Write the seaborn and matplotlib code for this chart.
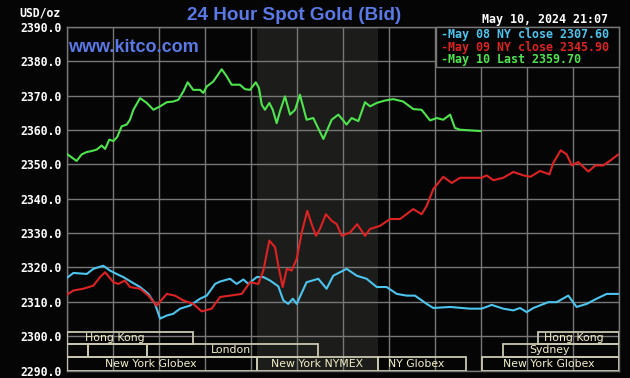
import matplotlib
matplotlib.use("Agg")
import matplotlib.pyplot as plt
from matplotlib.patches import Rectangle
import seaborn as sns
import pandas as pd

# ---------------- data ----------------
hours_may10 = [0.00, 0.43, 0.65, 0.87, 1.09, 1.30, 1.52, 1.67, 1.85, 2.03, 2.20, 2.39, 2.61, 2.75,
               2.90, 3.19, 3.48, 3.77, 4.06, 4.35, 4.63, 4.85, 5.07, 5.26, 5.50, 5.80, 5.94, 6.09,
               6.37, 6.74, 6.96, 7.17, 7.53, 7.75, 7.97, 8.22, 8.36, 8.48, 8.62, 8.81, 8.96, 9.13,
               9.27, 9.49, 9.71, 9.93, 10.14, 10.43, 10.72, 11.16, 11.52, 11.81, 12.17, 12.39,
               12.68, 12.97, 13.19, 13.48, 13.84, 14.20, 14.63, 15.07, 15.43, 15.80, 16.09, 16.37,
               16.67, 16.88, 17.10, 18.00]
price_may10 = [2353.1, 2351.0, 2352.9, 2353.6, 2353.9, 2354.3, 2355.5, 2354.5, 2357.2, 2356.8, 2358.0,
               2361.1, 2361.6, 2363.0, 2365.9, 2369.3, 2367.9, 2365.9, 2366.9, 2368.1, 2368.3, 2368.8,
               2371.2, 2373.9, 2371.7, 2371.7, 2370.8, 2372.7, 2374.1, 2377.7, 2375.6, 2373.2, 2373.2,
               2371.9, 2371.7, 2373.9, 2372.2, 2367.4, 2365.9, 2367.9, 2365.9, 2362.0, 2365.4, 2369.8,
               2364.5, 2365.9, 2370.3, 2363.0, 2363.5, 2357.4, 2363.0, 2364.5, 2361.6, 2363.5, 2362.6,
               2368.1, 2366.9, 2367.9, 2368.6, 2369.0, 2368.3, 2366.1, 2365.9, 2362.8, 2363.5, 2363.0,
               2364.5, 2360.6, 2360.1, 2359.7]

hours_may08 = [0.00, 0.29, 0.87, 1.16, 1.59, 1.88, 2.17, 2.46, 2.83, 3.19, 3.55, 3.84, 4.06, 4.35,
               4.63, 4.93, 5.36, 5.80, 6.09, 6.45, 6.67, 7.10, 7.39, 7.68, 7.90, 8.26, 8.55, 8.84,
               9.20, 9.42, 9.63, 9.83, 10.00, 10.43, 10.94, 11.30, 11.59, 12.17, 12.61, 13.04, 13.48,
               13.91, 14.35, 14.78, 15.14, 15.65, 15.94, 16.67, 17.53, 18.04, 18.48, 18.98, 19.42,
               19.71, 20.00, 20.29, 20.94, 21.30, 21.81, 22.17, 22.61, 23.04, 23.48, 23.98]
price_may08 = [2316.9, 2318.4, 2318.1, 2319.6, 2320.5, 2319.1, 2318.1, 2317.2, 2315.7, 2314.3, 2312.3,
               2309.4, 2305.1, 2306.0, 2306.5, 2308.0, 2308.9, 2310.9, 2311.8, 2315.2, 2315.9, 2316.7,
               2315.2, 2316.5, 2315.2, 2317.2, 2317.2, 2316.2, 2314.5, 2310.4, 2309.4, 2310.9, 2309.4,
               2315.7, 2316.7, 2313.8, 2317.6, 2319.6, 2317.6, 2316.7, 2314.3, 2314.3, 2312.3, 2311.8,
               2311.8, 2309.4, 2308.2, 2308.5, 2308.0, 2308.0, 2309.1, 2308.0, 2307.5, 2308.2, 2307.0,
               2308.2, 2309.9, 2309.9, 2311.8, 2308.5, 2309.4, 2310.9, 2312.3, 2312.3]

hours_may09 = [0.00, 0.29, 0.72, 1.16, 1.45, 1.67, 2.03, 2.24, 2.53, 2.75, 3.19, 3.55, 3.91, 4.35,
               4.71, 5.07, 5.50, 5.87, 6.30, 6.67, 7.10, 7.61, 7.97, 8.33, 8.55, 8.81, 9.06, 9.20,
               9.39, 9.57, 9.78, 10.00, 10.22, 10.46, 10.65, 10.84, 11.01, 11.27, 11.52, 11.74, 11.96,
               12.32, 12.63, 12.97, 13.19, 13.62, 14.06, 14.49, 15.07, 15.43, 15.65, 15.94, 16.37,
               16.74, 17.10, 18.04, 18.26, 18.55, 18.98, 19.42, 19.86, 20.16, 20.58, 20.99, 21.16,
               21.48, 21.74, 21.96, 22.24, 22.68, 22.98, 23.33, 23.69, 23.98]
price_may09 = [2312.0, 2313.3, 2313.8, 2314.7, 2317.2, 2318.6, 2315.7, 2315.2, 2316.2, 2314.3, 2313.8,
               2311.8, 2308.9, 2312.3, 2311.8, 2310.4, 2309.4, 2307.2, 2308.0, 2311.4, 2311.8, 2312.3,
               2315.7, 2315.2, 2319.1, 2327.8, 2325.9, 2320.5, 2314.3, 2319.6, 2319.1, 2322.5, 2330.2,
               2336.5, 2332.6, 2329.2, 2331.2, 2335.5, 2333.6, 2332.6, 2329.2, 2330.2, 2332.6, 2329.2,
               2331.2, 2332.1, 2334.1, 2334.1, 2337.0, 2335.5, 2337.9, 2342.8, 2346.4, 2344.6, 2346.1,
               2346.1, 2346.8, 2345.4, 2346.1, 2347.8, 2346.8, 2346.4, 2348.1, 2347.1, 2350.5, 2354.1,
               2352.9, 2349.7, 2350.7, 2347.9, 2349.7, 2349.7, 2351.4, 2352.9]

legend_labels = ["May 08 NY close 2307.60", "May 09 NY close 2345.90", "May 10 Last 2359.70"]
y_ticks = [2290, 2300, 2310, 2320, 2330, 2340, 2350, 2360, 2370, 2380, 2390]

nymex_span = [8.26, 13.55]

session_names = ["Hong Kong", "Hong Kong", "", "", "London", "Sydney",
                 "New York Globex", "New York NYMEX", "NY Globex", "New York Globex"]
session_start = [0.0, 20.50, 0.0, 0.94, 3.48, 18.98, 0.0, 8.26, 13.55, 18.04]
session_end = [5.48, 24.0, 0.94, 3.48, 10.94, 24.0, 8.26, 13.55, 17.35, 24.0]
session_row = [0, 0, 1, 1, 1, 1, 2, 2, 2, 2]
session_label_x = [2.10, 22.07, None, None, 7.16, 20.99, 3.64, 10.88, 15.19, 20.97]

# ---------------- style ----------------
sns.set_style("dark")
BG = "#050505"
GRID = "#777777"
C08 = "#4cc4ee"
C09 = "#dc2222"
C10 = "#4ee44e"
BLUE = "#5a78e6"
MONO = ["DejaVu Sans Mono"]

AX_BOTTOM_PX = 370.5
fig = plt.figure(figsize=(6.3, 3.78), dpi=100, facecolor=BG)
ax = fig.add_axes([66.7 / 630, (378 - AX_BOTTOM_PX) / 378, (618.7 - 66.7) / 630,
                   (AX_BOTTOM_PX - 27) / 378])
ax.set_facecolor(BG)

ax.axvspan(nymex_span[0], nymex_span[1], color="#1c1c1a", zorder=0, lw=0)

for x in range(0, 25, 2):
    ax.axvline(x, color=GRID, lw=1.0, zorder=1)
for y in y_ticks:
    ax.axhline(y, color=GRID, lw=1.0, zorder=1)

df08 = pd.DataFrame({"h": hours_may08, "p": price_may08})
df09 = pd.DataFrame({"h": hours_may09, "p": price_may09})
df10 = pd.DataFrame({"h": hours_may10, "p": price_may10})
sns.lineplot(data=df08, x="h", y="p", color=C08, lw=1.5, ax=ax, zorder=3)
sns.lineplot(data=df09, x="h", y="p", color=C09, lw=1.5, ax=ax, zorder=4)
sns.lineplot(data=df10, x="h", y="p", color=C10, lw=1.5, ax=ax, zorder=5)

ax.set_xlim(0, 24)
ax.set_ylim(2290, 2390)
ax.set_xlabel("")
ax.set_ylabel("")
ax.set_xticks([])
ax.set_yticks(y_ticks)
ax.set_yticklabels([f"{v:.1f}" for v in y_ticks], family=MONO, fontweight="bold",
                   fontsize=8.3, color="white")
ax.tick_params(axis="y", length=0, pad=4)
for s in ax.spines.values():
    s.set_color(GRID)
    s.set_linewidth(1.0)
ax.grid(False)

# session bars
row_bounds = [(2297.7, 2301.2), (2294.0, 2297.7), (2290.0, 2294.0)]
for name, s, e, r, lx in zip(session_names, session_start, session_end, session_row, session_label_x):
    y0, y1 = row_bounds[r]
    ax.add_patch(Rectangle((s, y0), e - s, y1 - y0, fill=False, ec="#c9c7b0", lw=1.3, zorder=6))
    if name:
        ax.text(lx, (y0 + y1) / 2, name, color="#f3f0c8", fontsize=7.8, ha="center",
                va="center", zorder=7, family=["DejaVu Sans"])

# legend box
lx0, lx1, ly0, ly1 = 436 / 630, 619.3 / 630, 1 - 66.7 / 378, 1 - 27 / 378
fig.patches.append(Rectangle((lx0, ly0), lx1 - lx0, ly1 - ly0, transform=fig.transFigure,
                             facecolor=BG, edgecolor=GRID, lw=1.0, zorder=10))
for i, (lab, c) in enumerate(zip(legend_labels, [C08, C09, C10])):
    fig.text(441.5 / 630, 1 - (34.5 + i * 12.6) / 378, "-" + lab, color=c, family=MONO,
             fontweight="bold", fontsize=8.4, ha="left", va="center", zorder=11)

# header texts
fig.text(294 / 630, 1 - 15 / 378, "24 Hour Spot Gold (Bid)", color=BLUE, fontsize=13.6,
         fontweight="bold", family=["Liberation Sans"], ha="center", va="center")
fig.text(68 / 630, 1 - 48 / 378, "www.kitco.com", color=BLUE, fontsize=13,
         fontweight="bold", family=["Liberation Sans"], ha="left", va="center", zorder=12)
fig.text(61 / 630, 1 - 13 / 378, "USD/oz", color="white", family=MONO, fontweight="bold",
         fontsize=8.3, ha="right", va="center")
fig.text(608 / 630, 1 - 19.5 / 378, "May 10, 2024 21:07", color="white", family=MONO,
         fontweight="bold", fontsize=8.4, ha="right", va="center")

fig.savefig("out.png", dpi=100, facecolor=BG)
